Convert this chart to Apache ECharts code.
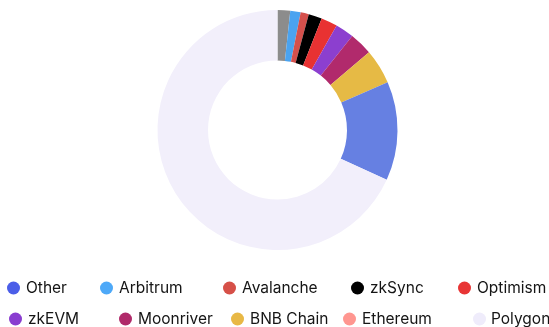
<!DOCTYPE html>
<html>
<head>
<meta charset="utf-8">
<script src="https://cdn.jsdelivr.net/npm/echarts@6/dist/echarts.min.js"></script>
<style>
html,body{margin:0;padding:0;background:#fff;}
#chart{width:549px;height:327px;}
</style>
</head>
<body>
<div id="chart"></div>
<script>
// Slice order (clockwise from top)
const names = ['Ethereum','Arbitrum','Avalanche','zkSync','Optimism','zkEVM','Moonriver','BNB Chain','Other','Polygon'];
const values = [1.7, 1.4, 1.1, 1.8, 2.2, 2.5, 3.1, 4.7, 13.3, 68.2];
const sliceColors = ['#8c8c8c','#4aa3f0','#d4504c','#000000','#e83232','#8c3fcf','#b12a6c','#e6ba45','#6680e2','#f2effb'];
// Legend order and icon colours
const legendNames = ['Other','Arbitrum','Avalanche','zkSync','Optimism','zkEVM','Moonriver','BNB Chain','Ethereum','Polygon'];
const legendColors = ['#4b5ee8','#4ea9f8','#d65048','#000000','#e83535','#8a3dd0','#b02a6a','#e8b845','#ff9690','#efecfb'];

const legendPos = [
  [7,280],[100,280],[223,280],[351,280],[458,280],
  [9,311],[119,311],[231,311],[343,311],[473,311]
];

const chart = echarts.init(document.getElementById('chart'));
const legends = legendNames.map((n,i)=>({
  left: legendPos[i][0], top: legendPos[i][1],
  orient:'horizontal', padding:0,
  icon:'circle', itemWidth:13, itemHeight:13, itemGap:0,
  selectedMode:false,
  textStyle:{fontFamily:'Inter', fontSize:15.5, color:'#151515', padding:[0,0,0,i===9?0:1]},
  data:[{name:n, itemStyle:{color:legendColors[i]}}]
}));

chart.setOption({
  animation:false,
  legend: legends,
  series:[{
    type:'pie',
    center:[277.5,130],
    radius:[69.5,120],
    startAngle:90,
    clockwise:true,
    label:{show:false},
    labelLine:{show:false},
    emphasis:{disabled:true},
    silent:true,
    data: names.map((n,i)=>({name:n, value:values[i], itemStyle:{color:sliceColors[i]}}))
  }]
});
</script>
</body>
</html>
